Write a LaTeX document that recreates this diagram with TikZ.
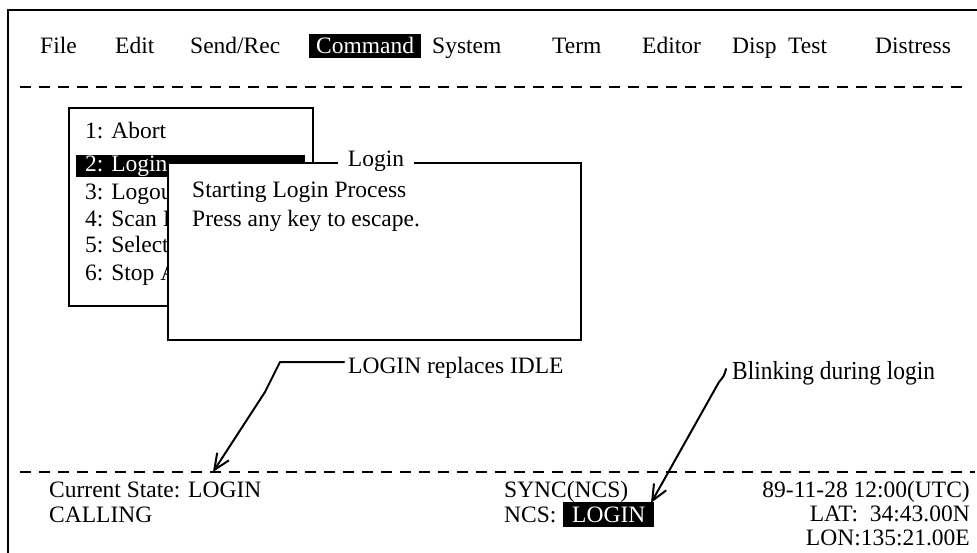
\documentclass[tikz,border=0pt]{standalone}
\usepackage{fontspec}
\setmainfont{Liberation Serif}
\newfontfamily\condfont[FakeStretch=0.9]{Liberation Serif}
\usetikzlibrary{arrows.meta}
\begin{document}
\begin{tikzpicture}[x=1pt,y=-1pt,
  every node/.style={font=\fontsize{23.5}{28}\selectfont, inner sep=0pt},
  txt/.style={anchor=base west},
  rtxt/.style={anchor=base east},
  frameline/.style={line width=2.2pt},
  dashline/.style={line width=2pt, dash pattern=on 11pt off 8pt},
  boxline/.style={draw, line width=1.7pt},
  inverse/.style={fill=black, text=white},
  leader/.style={line width=2pt, line cap=round, line join=round},
  tipped/.style={-{Straight Barb[length=16pt,width=14pt,line width=2pt]}}
]
\useasboundingbox (0,0) rectangle (977,553);
% outer frame (left and top)
\coordinate (fbl) at (8,553);
\coordinate (ftl) at (8,10);
\coordinate (ftr) at (977,10);
\draw[frameline] (fbl) -- (ftl) -- (ftr);
% menu bar
\node[txt] (mFile) at (40,54) {File};
\node[txt] (mEdit) at (115,54) {Edit};
\node[txt] (mSend) at (190,54) {Send/Rec};
\node[txt, inverse, inner xsep=7pt, text height=20pt, text depth=4pt] (mCmd) at (309,54) {Command};
\node[txt] (mSys) at (432,54) {System};
\node[txt] (mTerm) at (552,54) {Term};
\node[txt] (mEditor) at (642,54) {Editor};
\node[txt] (mDisp) at (732,54) {Disp};
\node[txt] (mTest) at (788,54) {Test};
\node[txt] (mDist) at (875,54) {Distress};
\coordinate (d1a) at (20,87);
\coordinate (d1b) at (965,87);
\draw[dashline] (d1a) -- (d1b);
% command menu box
\node[boxline, anchor=north west, minimum width=244pt, minimum height=198pt] (menu) at (68,107) {};
\fill[black] (76,155) rectangle (305,177);
\node[txt] (i1) at (85,139) {1: Abort};
\node[txt, text=white] (i2) at (85,172) {2: Login};
\node[txt] (i3) at (85,200) {3: Logou};
\node[txt] (i4) at (85,227) {4: Scan I};
\node[txt] (i5) at (85,253) {5: Select};
\node[txt] (i6) at (85,280) {6: Stop A};
% login dialog
\node[boxline, fill=white, anchor=north west, minimum width=413pt, minimum height=177pt] (dlg) at (167,162) {};
\node[fill=white, inner xsep=10pt, inner ysep=1pt, anchor=base] (dlgt) at (376,167) {Login};
\node[txt] (s1) at (192,198) {Starting Login Process};
\node[txt] (s2) at (192,227) {Press any key to escape.};
% callout 1
\node[txt] (c1) at (348,373) {LOGIN replaces IDLE};
\coordinate (c1k) at (280,362);
\coordinate (c1m) at (265,392);
\coordinate (c1t) at (213,472);
\draw[leader, tipped] (c1.west |- c1k) ++(-4,0) -- (c1k) -- (c1m) -- (c1t);
% callout 2
\node[txt, font=\condfont\fontsize{26}{30}\selectfont] (c2) at (732,379) {Blinking during login};
\coordinate (c2s) at (726,369);
\coordinate (c2m) at (719,382);
\coordinate (c2t) at (651,503);
\draw[leader, tipped] (c2s) .. controls (724,376) .. (c2m) -- (c2t);
% status line
\coordinate (d2a) at (20,472);
\coordinate (d2b) at (975,472);
\draw[dashline] (d2a) -- (d2b);
\node[txt] (st1) at (49,497) {Current State: LOGIN};
\node[txt] (st2) at (49,522) {CALLING};
\node[txt] (sy1) at (504,497) {SYNC(NCS)};
\node[txt] (sy2) at (504,522) {NCS:};
\node[txt, inverse, inner xsep=9pt, text height=20pt, text depth=5pt] (sy3) at (563,522) {LOGIN};
\node[rtxt] (dt1) at (970,497) {89-11-28 12:00(UTC)};
\node[rtxt] (dt2) at (970,521) {LAT:\ \ 34:43.00N};
\node[rtxt] (dt3) at (970,545) {LON:135:21.00E};
\end{tikzpicture}
\end{document}
